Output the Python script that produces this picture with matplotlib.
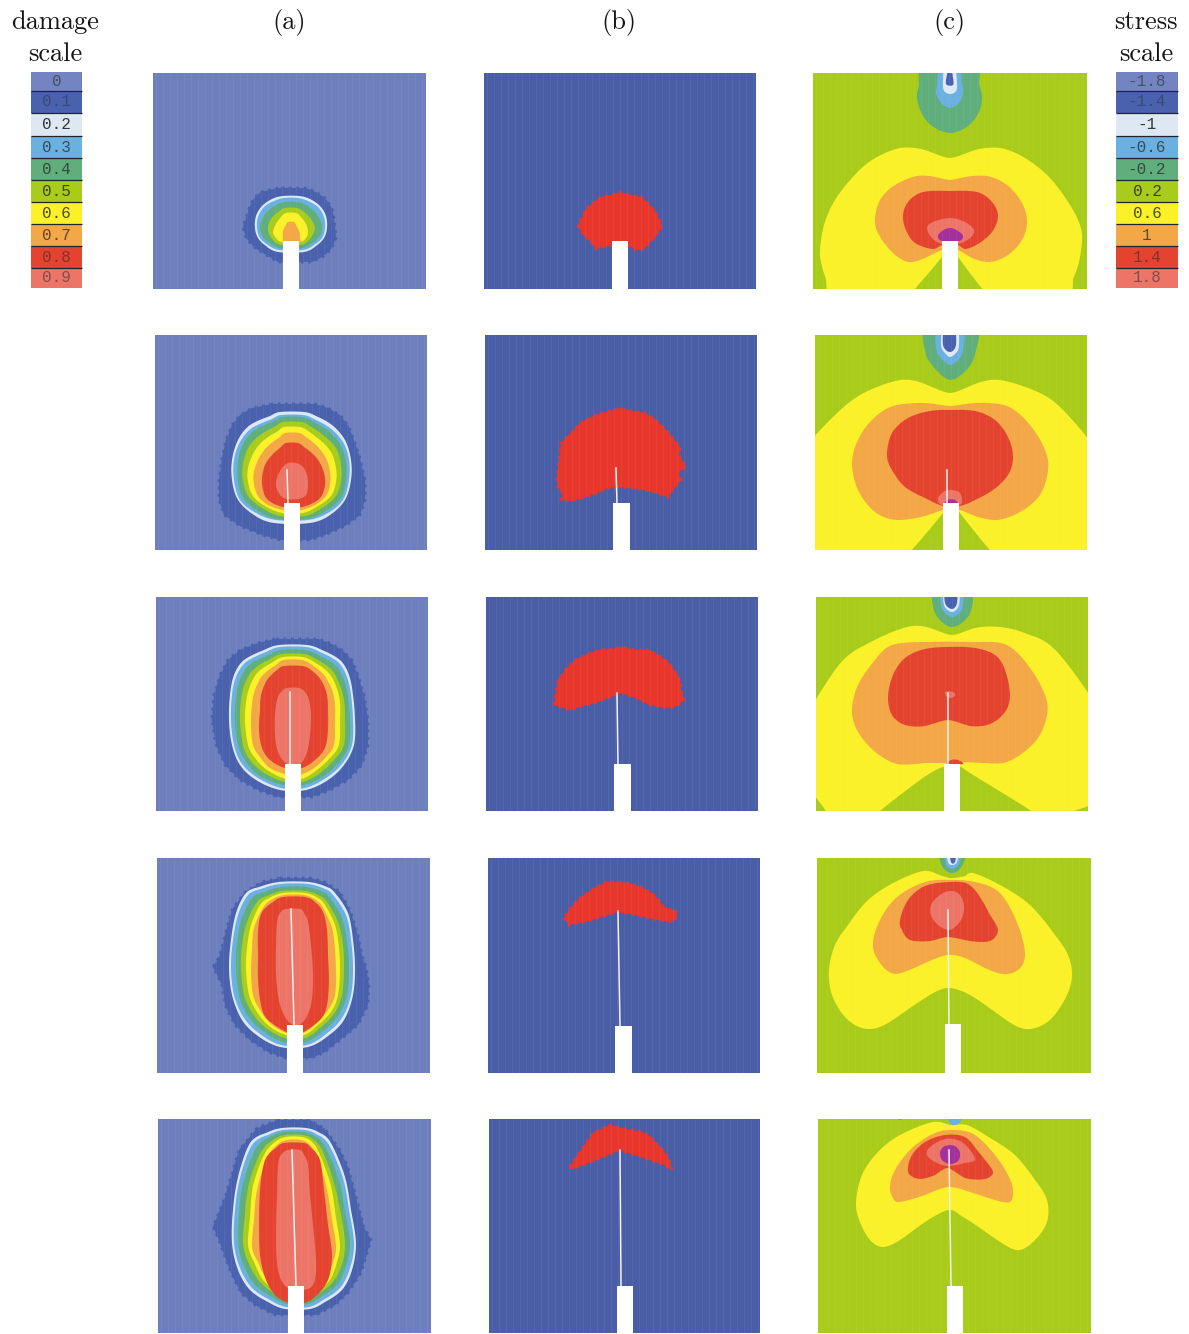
import numpy as np
from matplotlib import pyplot as plt

W, H = 1189, 1334

# colours of the two scales, lowest band first
band = ["#7484C2", "#4A62AE", "#DDE8F3", "#6AB0E0", "#5FAE7C", "#A8CC1C",
        "#FBF128", "#F3A746", "#E4432F", "#EC7567"]
purple = "#A4309C"
blob_red = "#E8362C"
bg_a = "#6E7FBE"
bg_b = "#4A5EA8"
bg_c = "#A9CC1A"

# scales
damage_labels = ["0", "0.1", "0.2", "0.3", "0.4", "0.5", "0.6", "0.7", "0.8", "0.9"]
stress_labels = ["-1.8", "-1.4", "-1", "-0.6", "-0.2", "0.2", "0.6", "1", "1.4", "1.8"]
scale_edges = [72, 91, 113, 136, 158, 180, 202, 224, 246, 268, 288]
label_alpha = [0.55, 0.4, 0.9, 0.7, 0.7, 0.8, 0.8, 0.7, 0.5, 0.5]

# panel frames in picture pixels, one entry per row
row_tops = [73, 335, 597, 858, 1119]
row_bottoms = [289, 550, 811, 1073, 1333]
a_left = [153, 155, 156, 157, 158]
a_right = [426, 427, 428, 430, 431]
b_left = [484, 485, 486, 488, 489]
b_right = [756, 757, 758, 760, 760]
c_left = [813, 815, 816, 817, 818]
c_right = [1087, 1087, 1088, 1091, 1091]

# notch (left, right, top)
a_notch = [(283, 299, 241), (284, 300, 503), (285, 301, 764), (287, 303, 1025), (288, 304, 1286)]
b_notch = [(612, 628, 241), (613, 630, 503), (614, 631, 764), (615, 632, 1026), (617, 633, 1286)]
c_notch = [(942, 958, 241), (943, 959, 503), (944, 960, 764), (945, 961, 1024), (947, 963, 1286)]

# crack (x bottom, y bottom, x tip, y tip)
a_crack = [None, (288, 503, 287, 470), (290, 764, 290, 692), (294, 1025, 291, 909), (296, 1286, 292, 1150)]
b_crack = [None, (617, 503, 616, 468), (618, 764, 617, 693), (620, 1026, 618, 911), (621, 1286, 620, 1150)]
c_crack = [None, (947, 503, 947, 470), (948, 764, 948, 693), (949, 1024, 948, 910), (951, 1286, 949, 1150)]

# column (a): band index, heights, left edge, right edge
a1_bands = [
    (1, [188, 192, 198, 208, 218, 227, 238, 248, 256, 262], [278, 261, 254, 249, 246, 243, 246, 255, 268, 278], [306, 316, 325, 332, 334, 335, 336, 332, 324, 312]),
    (2, [196, 199, 206, 216, 228, 238, 246, 252], [283, 272, 262, 256, 255, 258, 266, 278], [299, 310, 320, 326, 327, 324, 316, 304]),
    (3, [198, 201, 207, 217, 228, 238, 245, 250], [284, 274, 264, 258, 257, 260, 268, 279], [298, 308, 318, 324, 325, 322, 314, 303]),
    (4, [202, 205, 212, 220, 228, 237, 243, 248], [285, 276, 267, 262, 260, 263, 270, 280], [297, 306, 315, 320, 322, 319, 312, 302]),
    (5, [208, 212, 219, 228, 236, 242, 245], [285, 278, 271, 268, 270, 275, 282], [297, 304, 311, 315, 312, 307, 300]),
    (6, [213, 217, 224, 232, 238, 242], [286, 281, 276, 273, 276, 282], [296, 301, 306, 308, 306, 300]),
    (7, [222, 225, 231, 238, 243], [288, 286, 283, 283, 284], [294, 296, 299, 300, 299]),
]
a2_bands = [
    (1, [404, 408, 415, 425, 440, 458, 480, 500, 515, 526, 535, 540], [272, 252, 240, 232, 226, 222, 219, 219, 224, 240, 262, 280], [315, 328, 340, 348, 354, 360, 365, 365, 360, 345, 325, 310]),
    (2, [412, 416, 425, 440, 460, 480, 500, 515, 523], [280, 270, 250, 238, 232, 232, 238, 254, 274], [304, 316, 332, 345, 351, 351, 345, 330, 310]),
    (3, [415, 419, 428, 442, 460, 480, 500, 513, 520], [281, 272, 252, 240, 234, 234, 240, 256, 276], [303, 314, 330, 343, 349, 349, 343, 328, 308]),
    (4, [417, 421, 430, 444, 462, 480, 498, 511, 519], [282, 274, 255, 243, 238, 238, 243, 258, 277], [302, 312, 327, 340, 346, 346, 341, 326, 307]),
    (5, [422, 426, 435, 448, 465, 480, 496, 508, 516], [283, 276, 260, 248, 243, 243, 248, 262, 280], [301, 310, 323, 336, 341, 341, 336, 322, 305]),
    (6, [427, 431, 440, 452, 468, 482, 496, 506, 513], [284, 278, 264, 254, 248, 248, 253, 265, 282], [300, 308, 320, 331, 336, 336, 331, 318, 303]),
    (7, [433, 437, 446, 458, 472, 484, 496, 505, 510], [285, 280, 268, 259, 254, 254, 258, 268, 284], [299, 306, 317, 326, 330, 330, 326, 315, 301]),
    (8, [443, 447, 455, 465, 478, 490, 500, 507], [286, 281, 272, 265, 262, 263, 268, 283], [298, 304, 314, 321, 325, 324, 318, 302]),
    (9, [463, 467, 475, 485, 495, 499], [288, 283, 278, 276, 280, 287], [296, 303, 307, 308, 306, 298]),
]
a3_bands = [
    (1, [639, 643, 650, 660, 675, 695, 720, 745, 765, 780, 790, 797], [275, 258, 240, 228, 220, 214, 212, 216, 225, 240, 258, 278], [318, 330, 342, 352, 358, 364, 368, 368, 362, 348, 330, 312]),
    (2, [645, 650, 660, 675, 695, 720, 745, 765, 780, 790], [279, 264, 244, 234, 230, 229, 232, 240, 256, 280], [307, 322, 340, 349, 353, 355, 354, 344, 328, 306]),
    (3, [647, 652, 662, 677, 695, 720, 745, 764, 778, 788], [280, 266, 246, 236, 232, 231, 234, 242, 258, 281], [306, 320, 338, 347, 351, 353, 352, 342, 326, 305]),
    (4, [650, 655, 665, 680, 697, 720, 745, 762, 776, 785], [281, 268, 249, 240, 236, 235, 238, 246, 260, 283], [305, 318, 335, 344, 348, 350, 349, 339, 324, 304]),
    (5, [654, 659, 669, 683, 700, 720, 745, 760, 773, 782], [282, 270, 254, 245, 241, 240, 243, 250, 264, 285], [304, 316, 331, 339, 344, 345, 344, 334, 320, 303]),
    (6, [657, 662, 672, 686, 702, 722, 745, 758, 770, 779], [283, 273, 258, 250, 246, 245, 248, 255, 267, 286], [303, 314, 328, 336, 340, 340, 339, 330, 317, 302]),
    (7, [660, 665, 675, 690, 705, 725, 745, 757, 768, 775], [284, 276, 263, 255, 252, 251, 253, 260, 270, 288], [302, 312, 324, 332, 335, 335, 334, 326, 314, 300]),
    (8, [666, 670, 680, 695, 710, 730, 748, 760, 768], [284, 277, 267, 261, 260, 259, 262, 270, 285], [302, 311, 321, 327, 328, 328, 325, 315, 302]),
    (9, [688, 692, 700, 715, 735, 752, 764], [287, 281, 277, 275, 275, 278, 287], [299, 305, 309, 311, 310, 307, 300]),
]
a4_bands = [
    (1, [878, 882, 892, 910, 935, 955, 967, 985, 1005, 1025, 1040, 1052, 1058], [280, 262, 245, 232, 225, 220, 213, 222, 225, 235, 250, 268, 285], [310, 325, 340, 350, 358, 362, 366, 369, 368, 358, 340, 325, 312]),
    (2, [882, 887, 893, 913, 940, 967, 995, 1020, 1036, 1047], [279, 259, 246, 236, 231, 229, 232, 242, 258, 280], [309, 327, 335, 348, 353, 355, 353, 344, 328, 308]),
    (3, [884, 889, 895, 915, 940, 967, 995, 1018, 1034, 1045], [280, 261, 248, 238, 233, 231, 234, 244, 260, 281], [308, 325, 333, 346, 351, 353, 351, 342, 326, 307]),
    (4, [887, 892, 898, 918, 942, 967, 995, 1016, 1031, 1042], [281, 264, 252, 242, 237, 236, 239, 248, 263, 283], [307, 323, 330, 342, 347, 349, 347, 338, 323, 306]),
    (5, [891, 896, 902, 922, 945, 967, 995, 1014, 1028, 1038], [282, 267, 257, 247, 242, 241, 244, 253, 266, 285], [306, 320, 327, 338, 343, 344, 342, 334, 320, 305]),
    (6, [893, 898, 905, 925, 948, 970, 995, 1012, 1026, 1035], [283, 269, 260, 251, 247, 246, 249, 257, 269, 286], [305, 318, 325, 335, 339, 340, 338, 331, 317, 304]),
    (7, [895, 900, 908, 928, 950, 972, 995, 1010, 1024, 1033], [284, 271, 263, 254, 252, 251, 253, 260, 271, 287], [304, 316, 323, 332, 335, 336, 335, 328, 315, 303]),
    (8, [897, 902, 912, 930, 955, 980, 1005, 1020, 1034], [283, 273, 262, 258, 258, 258, 261, 268, 290], [305, 315, 323, 327, 328, 329, 327, 320, 300]),
    (9, [909, 913, 922, 945, 975, 1005, 1023], [286, 280, 277, 276, 276, 280, 290], [300, 304, 308, 311, 313, 311, 302]),
]
a5_bands = [
    (1, [1120, 1128, 1150, 1167, 1197, 1227, 1240, 1257, 1273, 1293, 1305, 1315], [278, 257, 239, 234, 225, 213, 219, 225, 231, 241, 255, 275], [310, 324, 340, 348, 356, 364, 371, 366, 361, 348, 335, 316]),
    (2, [1128, 1133, 1143, 1177, 1210, 1243, 1270, 1290, 1302, 1309], [282, 266, 250, 238, 233, 232, 238, 250, 268, 285], [306, 320, 331, 345, 351, 356, 352, 342, 325, 310]),
    (3, [1130, 1135, 1145, 1178, 1210, 1243, 1268, 1288, 1300, 1307], [283, 268, 252, 240, 235, 234, 240, 252, 270, 286], [305, 318, 329, 343, 349, 354, 350, 340, 323, 309]),
    (4, [1132, 1137, 1148, 1180, 1212, 1243, 1266, 1285, 1297, 1304], [284, 270, 256, 244, 239, 238, 244, 255, 272, 287], [304, 316, 326, 339, 345, 350, 346, 337, 321, 308]),
    (5, [1135, 1140, 1152, 1183, 1215, 1243, 1264, 1282, 1294, 1300], [285, 273, 261, 249, 245, 243, 249, 260, 275, 288], [303, 314, 323, 334, 341, 345, 342, 333, 318, 307]),
    (6, [1137, 1142, 1155, 1186, 1218, 1245, 1262, 1280, 1292, 1297], [286, 275, 264, 253, 250, 248, 254, 263, 277, 289], [302, 312, 320, 331, 336, 340, 337, 330, 316, 306]),
    (7, [1140, 1145, 1158, 1190, 1220, 1247, 1262, 1278, 1290, 1295], [287, 277, 267, 257, 254, 252, 258, 266, 279, 290], [301, 310, 318, 327, 332, 336, 333, 326, 313, 305]),
    (8, [1143, 1148, 1160, 1190, 1225, 1255, 1280, 1296, 1303], [284, 276, 265, 260, 259, 260, 266, 276, 290], [304, 311, 320, 324, 328, 332, 328, 316, 304]),
    (9, [1150, 1155, 1165, 1195, 1235, 1270, 1288], [288, 281, 278, 277, 276, 278, 288], [300, 304, 308, 310, 314, 316, 310]),
]

# column (b): outline of the red zone
b1_zone = [(612, 245), (603, 247), (596, 249), (590, 241), (584, 236), (578, 226), (582, 217), (586, 209), (594, 202), (601, 197), (611, 195), (620, 192), (630, 195), (641, 197), (648, 203), (655, 211), (659, 219), (662, 226), (656, 236), (651, 241), (644, 249), (636, 250), (628, 245)]
b2_zone = [(618, 487), (608, 488), (597, 493), (585, 497), (573, 501), (561, 500), (563, 494), (558, 487), (557, 477), (559, 462), (561, 443), (571, 433), (578, 425), (585, 420), (599, 414), (610, 411), (620, 408), (632, 411), (645, 413), (656, 420), (667, 431), (680, 447), (679, 455), (686, 467), (678, 472), (681, 480), (675, 487), (668, 497), (656, 493), (644, 490), (631, 488)]
b3_zone = [(554, 705), (556, 692), (558, 680), (566, 669), (575, 660), (587, 654), (600, 650), (611, 649), (622, 647), (636, 650), (650, 650), (660, 656), (668, 662), (675, 671), (680, 680), (681, 690), (684, 700), (677, 706), (670, 708), (660, 707), (650, 705), (636, 698), (622, 693), (608, 698), (595, 703), (582, 706), (570, 710), (561, 707)]
b4_zone = [(564, 918), (569, 925), (577, 923), (585, 922), (600, 917), (618, 912), (631, 914), (644, 917), (658, 920), (672, 922), (677, 917), (676, 911), (664, 907), (658, 899), (652, 893), (641, 887), (628, 883), (617, 882), (606, 882), (593, 889), (581, 897), (574, 904), (569, 910)]
b5_zone = [(570, 1167), (573, 1169), (586, 1164), (603, 1157), (620, 1150), (635, 1155), (650, 1160), (664, 1165), (672, 1170), (670, 1163), (668, 1157), (662, 1149), (656, 1143), (650, 1136), (642, 1132), (626, 1129), (610, 1125), (601, 1129), (593, 1133), (586, 1143), (579, 1153), (574, 1160)]

# column (c): band index and outline; points outside a frame get clipped by it
c1_bands = [
    (6, [(836, 305), (826, 280), (821, 262), (820, 250), (824, 225), (835, 200), (852, 178), (872, 160), (900, 148), (925, 150), (950, 158), (975, 150), (1000, 148), (1025, 158), (1050, 178), (1070, 205), (1080, 225), (1082, 240), (1079, 262), (1073, 280), (1064, 305), (1000, 305), (958, 257), (942, 257), (896, 305)]),
    (7, [(942, 250), (925, 258), (908, 262), (892, 252), (879, 235), (875, 220), (880, 200), (895, 185), (917, 176), (935, 177), (950, 180), (965, 177), (987, 176), (1007, 185), (1022, 203), (1027, 222), (1022, 240), (1008, 255), (990, 262), (972, 258), (958, 250)]),
    (8, [(942, 245), (933, 249), (915, 243), (906, 230), (903, 216), (908, 202), (923, 192), (950, 191), (977, 192), (992, 202), (998, 216), (992, 232), (978, 244), (965, 249), (958, 245)]),
    (9, [(942, 244), (932, 238), (927, 228), (933, 222), (950, 218), (965, 222), (974, 230), (970, 238), (958, 244)]),
    (-1, [(942, 241), (938, 236), (942, 231), (950, 228), (958, 231), (963, 236), (959, 241)]),
    (4, [(925, 62), (919, 85), (917, 97), (921, 112), (932, 126), (950, 133), (968, 126), (979, 112), (982, 97), (979, 83), (975, 62)]),
    (3, [(941, 62), (937, 85), (936, 93), (941, 103), (950, 108), (959, 103), (963, 93), (962, 83), (958, 62)]),
    (2, [(945, 62), (943, 85), (945, 92), (951, 94), (956, 91), (957, 83), (954, 62)]),
    (1, [(949, 66), (946, 80), (947, 85), (953, 85), (953, 78), (951, 66)]),
]
c2_bands = [
    (6, [(790, 590), (790, 472), (803, 450), (830, 420), (860, 395), (900, 380), (925, 384), (950, 393), (975, 384), (1000, 380), (1040, 393), (1065, 412), (1097, 450), (1110, 472), (1110, 590), (1030, 590), (960, 513), (943, 513), (870, 590)]),
    (7, [(943, 510), (925, 516), (897, 520), (875, 512), (858, 490), (852, 463), (858, 440), (872, 420), (893, 406), (925, 403), (950, 406), (975, 403), (1007, 406), (1030, 425), (1045, 450), (1048, 470), (1040, 495), (1020, 512), (997, 520), (975, 516), (960, 510)]),
    (8, [(943, 506), (925, 498), (905, 487), (892, 470), (887, 455), (892, 433), (908, 418), (930, 411), (950, 410), (975, 411), (995, 420), (1008, 437), (1013, 457), (1008, 475), (993, 490), (975, 500), (960, 506)]),
    (9, [(942, 505), (938, 498), (945, 491), (952, 490), (960, 493), (962, 502), (958, 505)]),
    (-1, [(945, 506), (947, 500), (955, 500), (958, 506)]),
    (4, [(927, 325), (925, 350), (932, 365), (950, 380), (968, 368), (976, 350), (975, 325)]),
    (3, [(938, 325), (936, 348), (941, 358), (950, 365), (960, 358), (964, 345), (962, 325)]),
    (2, [(944, 325), (941, 345), (945, 353), (950, 357), (956, 353), (959, 345), (957, 325)]),
    (1, [(945, 325), (943, 345), (950, 352), (956, 345), (954, 325)]),
]
c3_bands = [
    (6, [(840, 830), (826, 811), (790, 760), (790, 745), (835, 670), (865, 645), (907, 627), (930, 628), (952, 635), (975, 628), (1000, 627), (1030, 635), (1060, 655), (1110, 730), (1120, 788), (1072, 812), (1066, 825), (1052, 825), (1030, 810), (970, 773), (960, 767), (943, 767), (920, 780), (880, 811), (858, 830)]),
    (7, [(944, 763), (925, 763), (897, 764), (873, 750), (857, 730), (852, 710), (858, 685), (875, 660), (892, 645), (925, 642), (975, 642), (1007, 645), (1030, 668), (1045, 695), (1047, 715), (1038, 738), (1020, 755), (1003, 763), (985, 763), (960, 762)]),
    (8, [(948, 720), (925, 726), (905, 725), (892, 715), (888, 697), (893, 675), (905, 658), (925, 649), (950, 647), (975, 648), (995, 655), (1005, 670), (1010, 695), (1005, 712), (990, 724), (970, 726)]),
    (9, [(945, 692), (953, 692), (955, 696), (948, 698)]),
    (8, [(947, 764), (951, 760), (958, 760), (963, 764)]),
    (4, [(935, 587), (934, 610), (942, 622), (952, 627), (963, 622), (971, 610), (970, 587)]),
    (3, [(942, 587), (941, 605), (945, 613), (952, 617), (960, 613), (963, 605), (962, 587)]),
    (2, [(945, 587), (944, 605), (952, 612), (959, 605), (958, 587)]),
    (1, [(946, 587), (945, 603), (952, 609), (957, 603), (956, 587)]),
]
c4_bands = [
    (6, [(947, 988), (925, 998), (900, 1015), (880, 1027), (862, 1028), (845, 1017), (832, 995), (829, 970), (835, 945), (848, 925), (868, 900), (895, 882), (923, 871), (937, 874), (950, 878), (965, 876), (973, 873), (1000, 885), (1030, 905), (1055, 935), (1068, 955), (1072, 975), (1067, 995), (1052, 1018), (1035, 1028), (1018, 1027), (995, 1012), (970, 995)]),
    (7, [(947, 955), (925, 963), (895, 974), (878, 960), (873, 943), (880, 920), (897, 897), (925, 882), (950, 880), (975, 882), (1000, 893), (1018, 925), (1025, 955), (1018, 970), (1003, 974), (985, 968), (965, 958)]),
    (8, [(948, 937), (930, 941), (910, 940), (902, 930), (900, 920), (908, 900), (925, 886), (950, 882), (968, 884), (980, 897), (990, 915), (998, 930), (990, 941), (970, 941)]),
    (9, [(948, 930), (938, 925), (931, 915), (932, 903), (945, 892), (958, 893), (964, 905), (962, 918), (955, 927)]),
    (4, [(940, 847), (942, 866), (952, 873), (962, 866), (965, 847)]),
    (3, [(945, 847), (946, 864), (952, 869), (959, 864), (961, 847)]),
    (2, [(947, 847), (948, 862), (952, 865), (957, 862), (958, 847)]),
    (1, [(950, 849), (951, 862), (955, 862), (956, 849)]),
]
c5_bands = [
    (6, [(948, 1210), (925, 1222), (900, 1240), (883, 1247), (870, 1240), (860, 1222), (856, 1203), (862, 1175), (878, 1152), (900, 1135), (933, 1122), (950, 1125), (967, 1125), (990, 1138), (1015, 1155), (1035, 1180), (1047, 1200), (1047, 1222), (1035, 1240), (1020, 1250), (1005, 1245), (980, 1228), (960, 1215)]),
    (7, [(948, 1187), (925, 1195), (900, 1202), (893, 1198), (890, 1187), (895, 1170), (912, 1148), (935, 1133), (955, 1130), (975, 1135), (995, 1155), (1008, 1175), (1013, 1190), (1010, 1202), (995, 1200), (970, 1192)]),
    (8, [(948, 1168), (935, 1175), (920, 1179), (910, 1175), (908, 1168), (912, 1155), (925, 1142), (945, 1135), (965, 1137), (977, 1150), (985, 1160), (993, 1172), (985, 1179), (965, 1178)]),
    (9, [(948, 1166), (935, 1162), (927, 1155), (930, 1147), (945, 1139), (960, 1141), (970, 1150), (975, 1160), (965, 1163)]),
    (-1, [(950, 1164), (942, 1160), (940, 1152), (945, 1146), (955, 1146), (960, 1153), (958, 1161)]),
    (3, [(945, 1110), (950, 1123), (955, 1125), (960, 1122), (964, 1110)]),
    (4, [(890, 1112), (900, 1120), (908, 1112)]),
]

a_rows = [a1_bands, a2_bands, a3_bands, a4_bands, a5_bands]
b_rows = [b1_zone, b2_zone, b3_zone, b4_zone, b5_zone]
c_rows = [c1_bands, c2_bands, c3_bands, c4_bands, c5_bands]


def smooth(xs, ys, n=3):
    # four point subdivision, the curve still goes through the read points
    xs, ys = np.array(xs, float), np.array(ys, float)
    for _ in range(n):
        mx = 9 / 16 * (xs + np.roll(xs, -1)) - 1 / 16 * (np.roll(xs, 1) + np.roll(xs, -2))
        my = 9 / 16 * (ys + np.roll(ys, -1)) - 1 / 16 * (np.roll(ys, 1) + np.roll(ys, -2))
        xs = np.column_stack([xs, mx]).ravel()
        ys = np.column_stack([ys, my]).ravel()
    return xs, ys


def panel(left, right, top, bottom, face):
    ax = fig.add_axes([left / W, 1 - bottom / H, (right - left) / W, (bottom - top) / H])
    ax.set_xlim(left, right)
    ax.set_ylim(bottom, top)
    ax.set_xticks([])
    ax.set_yticks([])
    ax.set_facecolor(face)
    for s in ax.spines.values():
        s.set_visible(False)
    return ax


def finish(ax, notch, crack, bottom, left, right, top):
    # faint vertical stripes of the scanned print
    ax.vlines(np.arange(left + 3, right, 7), top, bottom, color="white", lw=0.8, alpha=0.05, zorder=4)
    if crack is not None:
        ax.plot(crack[0::2], crack[1::2], color="#F4F4EE", lw=1.1, zorder=5)
    ax.fill_betweenx([notch[2], bottom + 2], notch[0], notch[1], color="white", lw=0, zorder=6)


fig = plt.figure(figsize=(W / 100, H / 100), dpi=100, facecolor="white")

# scales and headings live in one axes spanning the whole picture
bg = fig.add_axes([0, 0, 1, 1])
bg.set_xlim(0, W)
bg.set_ylim(H, 0)
bg.axis("off")

heights = np.diff(scale_edges)
for x0, x1, labels in [(31, 82, damage_labels), (1116, 1178, stress_labels)]:
    bg.barh(scale_edges[:-1], [x1 - x0] * 10, height=heights, left=x0, align="edge", color=band)
    bg.hlines(scale_edges[1:-1], x0, x1, color="#20242c", lw=0.9)
    for i, lab in enumerate(labels):
        bg.text((x0 + x1) / 2, scale_edges[i] + heights[i] / 2, lab, ha="center", va="center",
                family="Liberation Mono", fontsize=11.5, color="#222222", alpha=label_alpha[i])

for x, y, s in [(55, 22, "damage"), (55, 54, "scale"), (1146, 22, "stress"), (1146, 54, "scale"),
                (289, 23, "(a)"), (619, 23, "(b)"), (949, 23, "(c)")]:
    bg.text(x, y, s, ha="center", va="center", family="cmr10", fontsize=19, color="#151515")

for r in range(5):
    top, bottom = row_tops[r], row_bottoms[r]

    ax = panel(a_left[r], a_right[r], top, bottom, bg_a)
    for idx, ys, xl, xr in a_rows[r]:
        px, py = list(xl) + list(xr[::-1]), list(ys) + list(ys[::-1])
        if idx == 1:
            # the outer blue edge is rough, a dotted edge frays it
            ax.fill(px, py, facecolor=band[1], edgecolor=band[1], lw=2, ls=":")
        else:
            sx, sy = smooth(px, py)
            ax.fill(sx, sy, color=band[idx], lw=0)
    finish(ax, a_notch[r], a_crack[r], bottom, a_left[r], a_right[r], top)

    ax = panel(b_left[r], b_right[r], top, bottom, bg_b)
    zx, zy = zip(*b_rows[r])
    ax.fill(zx, zy, facecolor=blob_red, edgecolor=blob_red, lw=2, ls=":")
    finish(ax, b_notch[r], b_crack[r], bottom, b_left[r], b_right[r], top)

    ax = panel(c_left[r], c_right[r], top, bottom, bg_c)
    for idx, pts in c_rows[r]:
        px, py = zip(*pts)
        sx, sy = smooth(px, py)
        ax.fill(sx, sy, color=purple if idx < 0 else band[idx], lw=0)
    finish(ax, c_notch[r], c_crack[r], bottom, c_left[r], c_right[r], top)

fig.savefig("out.png", dpi=100)
